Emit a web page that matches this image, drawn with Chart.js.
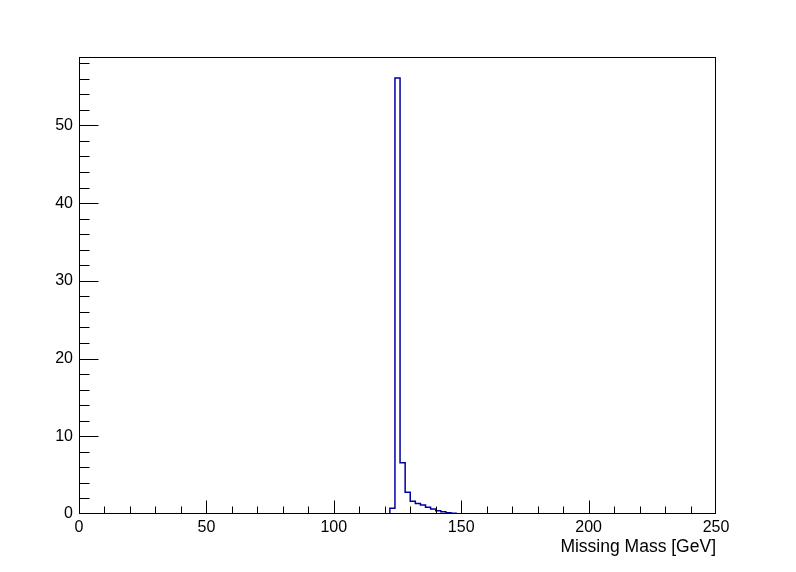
<!DOCTYPE html>
<html>
<head>
<meta charset="utf-8">
<script src="https://cdn.jsdelivr.net/npm/chart.js@4.4.0/dist/chart.umd.min.js"></script>
<style>
  html, body { margin: 0; padding: 0; background: #fff; }
  #wrap { width: 796px; height: 572px; }
</style>
</head>
<body>
<div id="wrap"><canvas id="myChart" width="796" height="572"></canvas></div>
<script>
// histogram bins (2 GeV wide), low edge + content
const binLow = [120, 122, 124, 126, 128, 130, 132, 134, 136, 138, 140, 142, 144, 146, 148];
const counts = [0, 0.75, 56.1, 6.6, 2.8, 1.65, 1.35, 1.15, 0.86, 0.64, 0.42, 0.3, 0.17, 0.09, 0];
const binWidth = 2;

const xTicks = [0, 50, 100, 150, 200, 250];
const yTicks = [0, 10, 20, 30, 40, 50];
const xMinorStep = 10;
const yMinorStep = 2;
const xRange = [0, 250];
const yRange = [0, 58.8];

const xTitle = 'Missing Mass [GeV]';

// build step outline points
const points = binLow.map((x, i) => ({ x: x, y: counts[i] }));
points.push({ x: binLow[binLow.length - 1] + binWidth, y: 0 });

const FONT = { family: "'Liberation Sans', Arial, sans-serif", size: 16 };
const TITLE_FONT = { family: "'Liberation Sans', Arial, sans-serif", size: 17.5 };

// ROOT-like frame with ticks pointing inside
const framePlugin = {
  id: 'frame',
  afterDraw(chart) {
    const ctx = chart.ctx;
    const a = chart.chartArea;
    const xs = chart.scales.x, ys = chart.scales.y;
    const L = Math.round(a.left) + 0.5, R = Math.round(a.right) - 0.5;
    const T = Math.round(a.top) + 0.5, B = Math.round(a.bottom) - 0.5;
    const clamp = (v, lo, hi) => Math.min(Math.max(v, lo), hi);
    ctx.save();
    ctx.strokeStyle = '#000';
    ctx.lineWidth = 1;
    ctx.strokeRect(L, T, R - L, B - T);
    ctx.beginPath();
    for (let v = xRange[0]; v <= xRange[1]; v += xMinorStep) {
      const px = clamp(Math.round(xs.getPixelForValue(v)) + 0.5, L, R);
      const len = xTicks.includes(v) ? 13 : 7;
      ctx.moveTo(px, B);
      ctx.lineTo(px, B - len);
    }
    for (let v = yRange[0]; v <= yRange[1]; v += yMinorStep) {
      const py = clamp(Math.round(ys.getPixelForValue(v)) + 0.5, T, B);
      const len = yTicks.includes(v) ? 19 : 10;
      ctx.moveTo(L, py);
      ctx.lineTo(L + len, py);
    }
    ctx.stroke();
    ctx.restore();
  }
};

const config = {
  type: 'line',
  data: {
    datasets: [{
      data: points,
      stepped: 'before',
      borderColor: '#0000a0',
      borderWidth: 1.5,
      pointRadius: 0,
      fill: false,
      tension: 0
    }]
  },
  options: {
    responsive: false,
    animation: false,
    layout: { padding: { left: 0, right: 80, top: 57, bottom: 0 } },
    plugins: { legend: { display: false }, tooltip: { enabled: false } },
    scales: {
      x: {
        type: 'linear',
        min: xRange[0],
        max: xRange[1],
        grid: { display: false, drawTicks: false },
        border: { display: false },
        afterBuildTicks: s => { s.ticks = xTicks.map(v => ({ value: v })); },
        afterFit: s => { s.height = 58; },
        ticks: { color: '#000', font: FONT, padding: 4, maxRotation: 0 },
        title: {
          display: true, text: xTitle, align: 'end', color: '#000',
          font: TITLE_FONT, padding: { top: 0, bottom: 14 }
        }
      },
      y: {
        min: yRange[0],
        max: yRange[1],
        grid: { display: false, drawTicks: false },
        border: { display: false },
        afterBuildTicks: s => { s.ticks = yTicks.map(v => ({ value: v })); },
        afterFit: s => { s.width = 79; },
        ticks: { color: '#000', font: FONT, padding: 6 }
      }
    }
  },
  plugins: [framePlugin]
};

const myChart = new Chart(document.getElementById('myChart'), config);
</script>
</body>
</html>
